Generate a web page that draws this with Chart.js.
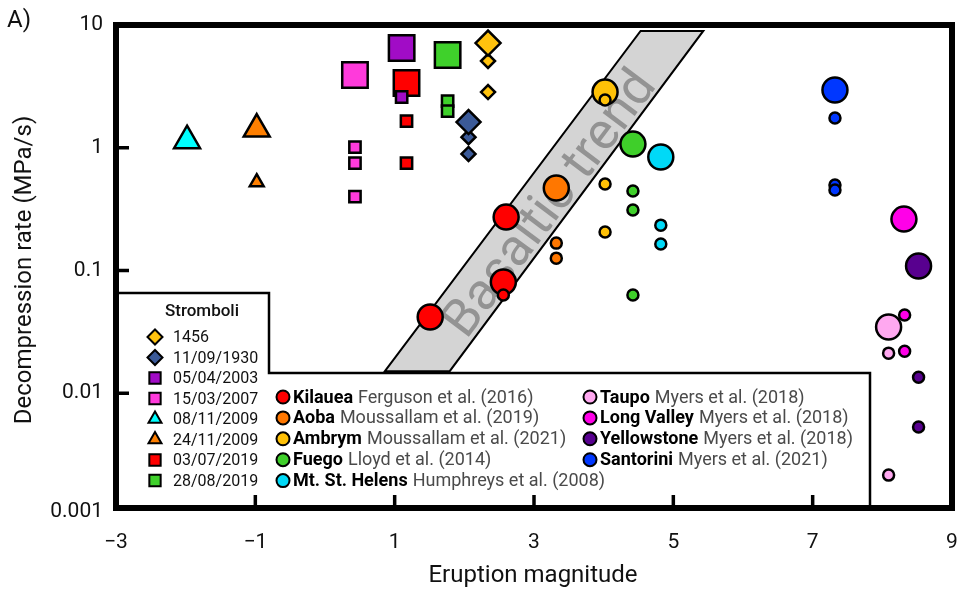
<!DOCTYPE html>
<html lang="en">
<head>
<meta charset="UTF-8">
<title>Decompression rate vs eruption magnitude</title>
<script src="https://cdn.jsdelivr.net/npm/chart.js@4.4.0/dist/chart.umd.min.js"></script>
<style>
html,body{margin:0;padding:0;background:#fff}
#box{width:962px;height:595px}
</style>
</head>
<body>
<div id="box"><canvas id="c" width="962" height="595"></canvas></div>
<script>
/* axes */
const xTicks = [-3,-1,1,3,5,7,9];
const xTickLabels = ['\u22123','\u22121','1','3','5','7','9'];
const yTicks = [0.001,0.01,0.1,1,10];
const yTickLabels = ['0.001','0.01','0.1','1','10'];
const yMin = 0.00116, yMax = 10;   // frame bottom sits a little above 0.001

/* Stromboli events: [magnitude, rate] */
const s1456Big   = [[2.34,7.13]];
const s1456Small = [[2.34,5.09],[2.34,2.84]];
const s1930Big   = [[2.06,1.62]];
const s1930Small = [[2.06,1.22],[2.06,0.89]];
const s2003Big   = [[1.10,6.49]];
const s2003Small = [[1.10,2.59]];
const s2007Big   = [[0.43,3.91]];
const s2007Small = [[0.43,1.01],[0.43,0.75],[0.43,0.40]];
const s0811Big   = [[-1.98,1.14]];
const s2411Big   = [[-0.98,1.42]];
const s2411Small = [[-0.98,0.524]];
const s0307Big   = [[1.17,3.37]];
const s0307Small = [[1.17,1.65],[1.17,0.75]];
const s2808Big   = [[1.76,5.69]];
const s2808Small = [[1.76,2.40],[1.76,1.99]];

/* other volcanoes */
const kilaueaBig       = [[2.60,0.272],[2.56,0.0804],[1.51,0.0417]];
const kilaueaSmall     = [[2.56,0.063]];
const aobaBig          = [[3.32,0.469]];
const aobaSmall        = [[3.32,0.167],[3.32,0.126]];
const ambrymBig        = [[4.02,2.84]];
const ambrymSmall      = [[4.02,2.45],[4.02,0.506],[4.02,0.206]];
const fuegoBig         = [[4.42,1.07]];
const fuegoSmall       = [[4.42,0.444],[4.42,0.311],[4.42,0.063]];
const helensBig        = [[4.82,0.84]];
const helensSmall      = [[4.82,0.234],[4.82,0.164]];
const taupoBig         = [[8.09,0.0346]];
const taupoSmall       = [[8.09,0.0212],[8.09,0.00215]];
const longValleyBig    = [[8.31,0.262]];
const longValleySmall  = [[8.32,0.0433],[8.32,0.022]];
const yellowstoneBig   = [[8.52,0.1086]];
const yellowstoneSmall = [[8.52,0.0135],[8.52,0.0053]];
const santoriniBig     = [[7.32,2.95]];
const santoriniSmall   = [[7.32,1.75],[7.32,0.497],[7.32,0.452]];

/* basaltic trend band */
const bandX = [0.86, 4.53, 5.43, 1.79];
const bandY = [0.0151, 8.94, 8.94, 0.0151];
const bandLabel = 'Basaltic trend';
const bandLabelAt = [3.25, 0.34];

/* legend */
const stromboliNames = ['1456','11/09/1930','05/04/2003','15/03/2007','08/11/2009','24/11/2009','03/07/2019','28/08/2019'];
const volcanoNames = ['Kilauea','Aoba','Ambrym','Fuego','Mt. St. Helens','Taupo','Long Valley','Yellowstone','Santorini'];
const volcanoRefs = ['Ferguson et al. (2016)','Moussallam et al. (2019)','Moussallam et al. (2021)','Lloyd et al. (2014)',
  'Humphreys et al. (2008)','Myers et al. (2018)','Myers et al. (2018)','Myers et al. (2018)','Myers et al. (2021)'];

// styles
const stromboliColors = ['#FFC20E','#3B5A98','#A10CC6','#FF3ADB','#00FFFF','#FF7F00','#FF0000','#3FD12B'];
const stromboliShapes = ['rectRot','rectRot','rect','rect','triangle','triangle','rect','rect'];
const volcanoColors = ['#FF0000','#FF7700','#FFC107','#3FCF2A','#00D9F7','#FFA8F0','#FF00E8','#58008F','#0037FF'];
const FONT = 'Roboto, "Open Sans", sans-serif';

function pts(a){ return a.map(p=>({x:p[0],y:p[1]})); }
function ds(arr,color,shape,r){
  return {data:pts(arr),pointStyle:shape,pointRadius:r,backgroundColor:color,
          borderColor:'#000',pointBorderWidth:2.5,showLine:false};
}
const C = stromboliColors, V = volcanoColors;

// listed bottom -> top
const layers = [
  ds(s1456Small,C[0],'rectRot',7),   ds(s1456Big,C[0],'rectRot',12.5),
  ds(s2007Small,C[3],'rect',8),      ds(s2007Big,C[3],'rect',18),
  ds(s0811Big,C[4],'triangle',15),
  ds(s2411Big,C[5],'triangle',15),   ds(s2411Small,C[5],'triangle',8),
  ds(s2808Big,C[7],'rect',18),       ds(s2808Small,C[7],'rect',8),
  ds(s1930Small,C[1],'rectRot',7),   ds(s1930Big,C[1],'rectRot',12),
  ds(s0307Big,C[6],'rect',18),       ds(s0307Small,C[6],'rect',8),
  ds(s2003Big,C[2],'rect',18),       ds(s2003Small,C[2],'rect',8),
  ds(kilaueaBig,V[0],'circle',12.5), ds(kilaueaSmall,V[0],'circle',5.5),
  ds(aobaBig,V[1],'circle',12.5),    ds(aobaSmall,V[1],'circle',5.5),
  ds(ambrymBig,V[2],'circle',12.5),  ds(ambrymSmall,V[2],'circle',5.5),
  ds(fuegoBig,V[3],'circle',12.5),   ds(fuegoSmall,V[3],'circle',5.5),
  ds(helensBig,V[4],'circle',12.5),  ds(helensSmall,V[4],'circle',5.5),
  ds(santoriniBig,V[8],'circle',12.5), ds(santoriniSmall,V[8],'circle',5.5),
  ds(longValleyBig,V[6],'circle',12.5), ds(longValleySmall,V[6],'circle',5.5),
  ds(yellowstoneBig,V[7],'circle',12.5), ds(yellowstoneSmall,V[7],'circle',5.5),
  ds(taupoBig,V[5],'circle',12.5),   ds(taupoSmall,V[5],'circle',5.5)
];
layers.forEach((d,i)=>{ d.order = layers.length - i; });

function marker(ctx,shape,color,r,x,y){
  ctx.fillStyle = color; ctx.strokeStyle = '#000'; ctx.lineWidth = 2;
  Chart.helpers.drawPoint(ctx,{pointStyle:shape,radius:r,rotation:0,borderWidth:2},x,y);
}

const decor = {
  id:'decor',
  beforeDatasetsDraw(chart){
    const {ctx, scales:{x,y}} = chart;
    const px = bandX.map(v=>x.getPixelForValue(v));
    const py = bandY.map(v=>y.getPixelForValue(v));
    ctx.save();
    ctx.beginPath();
    px.forEach((p,i)=> i ? ctx.lineTo(p,py[i]) : ctx.moveTo(p,py[i]));
    ctx.closePath();
    ctx.fillStyle = '#d4d4d4'; ctx.fill();
    ctx.lineWidth = 2; ctx.strokeStyle = '#000'; ctx.lineJoin = 'miter'; ctx.stroke();
    // label along the band
    const ang = Math.atan2(py[1]-py[0], px[1]-px[0]);
    ctx.translate(x.getPixelForValue(bandLabelAt[0]), y.getPixelForValue(bandLabelAt[1]));
    ctx.rotate(ang);
    ctx.font = '46px ' + FONT;
    const fs = 46 * 318 / ctx.measureText(bandLabel).width;
    ctx.font = fs.toFixed(1) + 'px ' + FONT;
    ctx.textAlign = 'center'; ctx.textBaseline = 'middle';
    ctx.fillStyle = 'rgba(130,130,130,0.8)';
    ctx.fillText(bandLabel,0,0);
    ctx.restore();
  },
  afterDatasetsDraw(chart){
    const {ctx, chartArea:a, scales:{x,y}} = chart;
    ctx.save();
    // legend box (L shape)
    ctx.beginPath();
    ctx.moveTo(a.left,293); ctx.lineTo(269,293); ctx.lineTo(269,373);
    ctx.lineTo(870,373); ctx.lineTo(870,a.bottom); ctx.lineTo(a.left,a.bottom); ctx.closePath();
    ctx.fillStyle = '#fff'; ctx.fill();
    ctx.lineWidth = 2.5; ctx.strokeStyle = '#000'; ctx.stroke();

    ctx.textBaseline = 'middle'; ctx.textAlign = 'center';
    ctx.fillStyle = '#111'; ctx.font = '500 17px ' + FONT;
    ctx.fillText('Stromboli',202,312);
    ctx.textAlign = 'left';
    stromboliNames.forEach((n,i)=>{
      const yy = 337 + i*20.5;
      marker(ctx,stromboliShapes[i],stromboliColors[i],stromboliShapes[i]==='rect'?8:7.5,155,yy);
      ctx.fillStyle = '#111'; ctx.font = '16px ' + FONT;
      ctx.fillText(n,173,yy+1);
    });
    volcanoNames.forEach((n,i)=>{
      const col = i < 5 ? 0 : 1;
      const row = i < 5 ? i : i - 5;
      const mx = col ? 590 : 283, tx = mx + 10, yy = 397 + row*20.9;
      marker(ctx,'circle',volcanoColors[i],6.5,mx,yy);
      ctx.fillStyle = '#000'; ctx.font = '700 18px ' + FONT;
      ctx.fillText(n,tx,yy+1);
      const w = ctx.measureText(n).width + 5;
      ctx.fillStyle = '#4a4a4a'; ctx.font = '18px ' + FONT;
      ctx.fillText(volcanoRefs[i],tx+w,yy+1);
    });

    // inward ticks
    ctx.beginPath(); ctx.lineWidth = 3.5;
    xTicks.slice(1,-1).forEach(v=>{
      const p = x.getPixelForValue(v); ctx.moveTo(p,a.bottom); ctx.lineTo(p,a.bottom-13);
    });
    yTicks.slice(1,-1).forEach(v=>{
      const p = y.getPixelForValue(v); ctx.moveTo(a.left,p); ctx.lineTo(a.left+13,p);
    });
    ctx.stroke();

    // frame
    ctx.lineWidth = 6; ctx.lineJoin = 'miter';
    ctx.strokeRect(a.left,a.top,a.right-a.left,a.bottom-a.top);

    // tick labels
    ctx.fillStyle = '#111'; ctx.textAlign = 'center'; ctx.textBaseline = 'middle';
    ctx.font = '21px ' + FONT;
    xTicks.forEach((v,i)=> ctx.fillText(xTickLabels[i], x.getPixelForValue(v), 543));
    ctx.textAlign = 'right';
    yTicks.forEach((v,i)=>{
      const p = Math.min(Math.max(y.getPixelForValue(v), a.top - 3), a.bottom + 4);
      ctx.fillText(yTickLabels[i], a.left - 13, p);
    });

    // titles
    ctx.textAlign = 'center';
    ctx.font = '24px ' + FONT; ctx.textBaseline = 'alphabetic';
    ctx.fillText('Eruption magnitude',533,582);
    ctx.translate(25,270); ctx.rotate(-Math.PI/2); ctx.textBaseline = 'middle';
    ctx.fillText('Decompression rate (MPa/s)',0,0);
    ctx.restore();
    ctx.save();
    ctx.font = '24px ' + FONT; ctx.fillStyle = '#111'; ctx.textBaseline = 'middle';
    ctx.fillText('A)',7,21);
    ctx.restore();
  }
};

new Chart(document.getElementById('c'),{
  type:'scatter',
  data:{datasets:layers},
  plugins:[decor],
  options:{
    responsive:false, animation:false, devicePixelRatio:1, events:[],
    layout:{autoPadding:false, padding:{top:25,right:10,left:0,bottom:0}},
    plugins:{legend:{display:false},tooltip:{enabled:false}},
    scales:{
      x:{
        type:'linear', min:-3, max:9,
        afterBuildTicks:s=>{ s.ticks = xTicks.map(v=>({value:v})); },
        afterFit:s=>{ s.height = 87; },
        grid:{display:false,drawTicks:false}, border:{display:false},
        ticks:{display:false}
      },
      y:{
        type:'logarithmic', min:yMin, max:yMax,
        afterFit:s=>{ s.width = 116; },
        grid:{display:false,drawTicks:false}, border:{display:false},
        ticks:{display:false}
      }
    }
  }
});
</script>
</body>
</html>
